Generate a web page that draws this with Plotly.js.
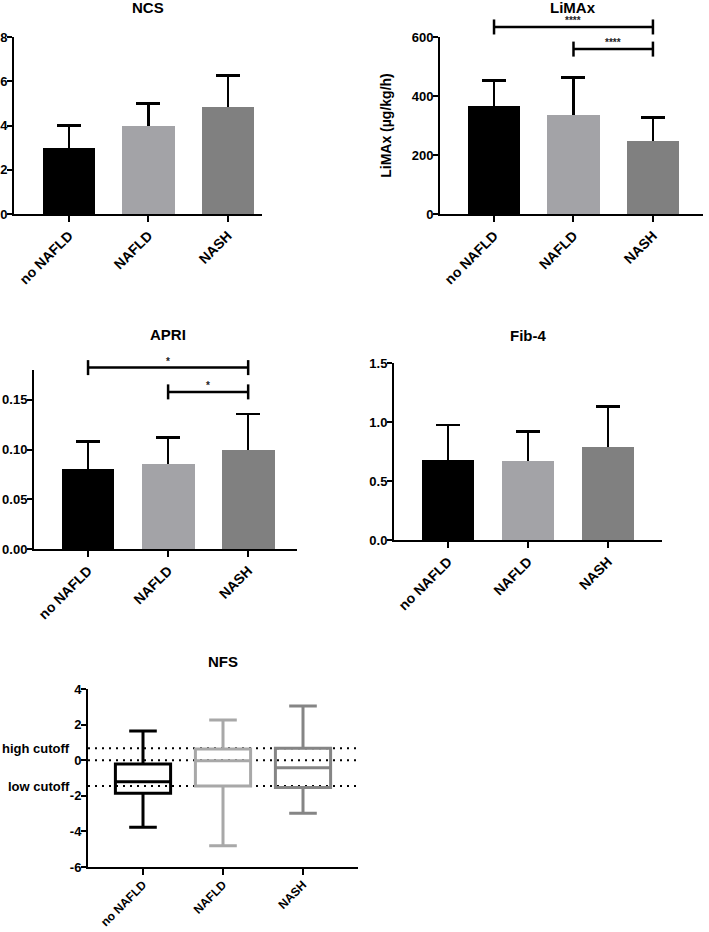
<!DOCTYPE html>
<html>
<head>
<meta charset="utf-8">
<script src="https://cdn.plot.ly/plotly-3.0.1.min.js"></script>
<style>html,body{margin:0;padding:0;background:#fff;}#chart{width:709px;height:932px;}</style>
</head>
<body>
<div id="chart"></div>
<script>
// ---------- data ----------
const categories = ['no NAFLD', 'NAFLD', 'NASH'];
const barColors = ['#000000', '#a3a3a7', '#808080'];
const boxColors = ['#000000', '#a8a8a8', '#858585'];

const ncsMean = [3.0, 4.0, 4.83];
const ncsSD = [1.0, 1.0, 1.42];

const limaxMean = [365, 337, 248];
const limaxSD = [87, 125, 79];

const apriMean = [0.080, 0.085, 0.100];
const apriSD = [0.028, 0.027, 0.036];

const fib4Mean = [0.675, 0.67, 0.79];
const fib4SD = [0.30, 0.25, 0.34];

// NFS box plot (min, Q1, median, Q3, max)
const nfsMin = [-3.77, -4.80, -2.98];
const nfsQ1 = [-1.86, -1.45, -1.54];
const nfsMedian = [-1.21, -0.03, -0.42];
const nfsQ3 = [-0.21, 0.63, 0.67];
const nfsMax = [1.64, 2.26, 3.04];
const nfsCutoffs = [0.676, 0, -1.455];
const nfsCutoffLabels = ['high cutoff', '', 'low cutoff'];
const nfsTickVals = [-6, -4, -2, 0, 2, 4];
const nfsTickText = ['-6', '-4', '-2', '0', '2', '4'];

// significance brackets
const limaxSigFrom = [0, 1];
const limaxSigTo = [2, 2];
const limaxSigY = [634, 559];
const limaxSigLabel = ['****', '****'];

const apriSigFrom = [0, 1];
const apriSigTo = [2, 2];
const apriSigY = [0.1824, 0.158];
const apriSigLabel = ['*', '*'];

// ---------- layout helpers ----------
const W = 709, H = 932;
const FONT = 'Liberation Sans, Arial, Helvetica, sans-serif';
const px2x = p => p / W;
const px2y = p => 1 - p / H;

function xAxis(x0, x1, yId, range, fs, standoff) {
  return {
    domain: [px2x(x0), px2x(x1)], anchor: yId, type: 'category',
    range: range, showline: true, linewidth: 2, linecolor: '#000',
    ticks: 'outside', ticklen: 6, tickwidth: 2, tickcolor: '#000',
    ticklabelstandoff: standoff || 0,
    tickangle: -45, showgrid: false, zeroline: false, fixedrange: true,
    tickfont: {family: FONT, size: fs || 14, color: '#000', weight: 'bold'}
  };
}
function yAxis(yTop, yBot, xId, range, extra) {
  return Object.assign({
    domain: [px2y(yBot), px2y(yTop)], anchor: xId,
    range: range, showline: true, linewidth: 2, linecolor: '#000',
    ticks: 'outside', ticklen: 5, tickwidth: 2, tickcolor: '#000',
    ticklabelstandoff: -3,
    showgrid: false, zeroline: false, fixedrange: true,
    tickfont: {family: FONT, size: 13, color: '#000', weight: 'bold'}
  }, extra || {});
}

// each bar panel: bars carrying the SD error bars, then the same bars on top
// hiding the lower half of the whiskers (upper-only error bars as in the original)
function barTraces(means, sds, xa, ya) {
  return [{
    type: 'bar', x: categories, y: means, xaxis: xa, yaxis: ya,
    width: 0.66, marker: {color: barColors, line: {width: 0}},
    error_y: {type: 'data', array: sds, color: '#000', thickness: 2.5, width: 12},
    showlegend: false, hoverinfo: 'skip'
  }, {
    type: 'bar', x: categories, y: means, xaxis: xa, yaxis: ya,
    width: 0.66, marker: {color: barColors, line: {width: 0}},
    showlegend: false, hoverinfo: 'skip'
  }];
}

const traces = [].concat(
  barTraces(ncsMean, ncsSD, 'x', 'y'),
  barTraces(limaxMean, limaxSD, 'x2', 'y2'),
  barTraces(apriMean, apriSD, 'x3', 'y3'),
  barTraces(fib4Mean, fib4SD, 'x4', 'y4')
);

categories.forEach((c, i) => {
  traces.push({
    type: 'box', x: [c], q1: [nfsQ1[i]], median: [nfsMedian[i]], q3: [nfsQ3[i]],
    lowerfence: [nfsMin[i]], upperfence: [nfsMax[i]], xaxis: 'x5', yaxis: 'y5',
    width: 0.69, whiskerwidth: 0.5, boxpoints: false,
    line: {color: boxColors[i], width: 3}, fillcolor: 'rgba(0,0,0,0)',
    showlegend: false, hoverinfo: 'skip'
  });
});

const shapes = [];
const annotations = [];

function addBrackets(from, to, ys, labels, xa, ya, ymax) {
  from.forEach((f, i) => {
    const yd = ys[i] / ymax;
    const common = {xref: xa, yref: ya + ' domain', line: {color: '#000', width: 2.5}, layer: 'above'};
    shapes.push(Object.assign({type: 'line', x0: f, x1: to[i], y0: yd, y1: yd}, common));
    [f, to[i]].forEach(xx => {
      shapes.push(Object.assign({type: 'line', x0: xx, x1: xx, ysizemode: 'pixel', yanchor: yd, y0: -7.5, y1: 7.5}, common));
    });
    annotations.push({xref: xa, yref: ya + ' domain', x: (f + to[i]) / 2, y: yd, yanchor: 'bottom',
      yshift: -1, showarrow: false, text: labels[i], font: {family: FONT, size: 10, color: '#222', weight: 'bold'}});
  });
}
addBrackets(limaxSigFrom, limaxSigTo, limaxSigY, limaxSigLabel, 'x2', 'y2', 600);
addBrackets(apriSigFrom, apriSigTo, apriSigY, apriSigLabel, 'x3', 'y3', 0.18);

// NFS cutoff dotted lines
nfsCutoffs.forEach((v, i) => {
  shapes.push({type: 'line', xref: 'x5 domain', yref: 'y5', x0: 0, x1: 1, y0: v, y1: v,
    line: {color: '#000', width: 2, dash: '2px,5px'}, layer: 'below'});
  if (nfsCutoffLabels[i]) {
    annotations.push({xref: 'x5 domain', yref: 'y5', x: -0.058, y: v, xanchor: 'right', yanchor: 'middle',
      showarrow: false, text: nfsCutoffLabels[i], font: {family: FONT, size: 13, color: '#000', weight: 'bold'}});
  }
});

// panel titles
const titles = [['NCS', 'x', 8], ['LiMAx', 'x2', 8], ['APRI', 'x3', 334], ['Fib-4', 'x4', 335], ['NFS', 'x5', 661]];
titles.forEach(t => {
  annotations.push({xref: t[1], yref: 'paper', x: 1, y: px2y(t[2]), xanchor: 'center', yanchor: 'middle',
    showarrow: false, text: t[0], font: {family: FONT, size: 15, color: '#000', weight: 'bold'}});
});

const layout = {
  width: W, height: H, margin: {l: 0, r: 0, t: 0, b: 0},
  paper_bgcolor: '#fff', plot_bgcolor: '#fff', showlegend: false,
  boxmode: 'overlay', barmode: 'overlay', bargap: 0,
  font: {family: FONT, color: '#000'},
  xaxis: xAxis(14, 262, 'y', [-0.69, 2.43]),
  yaxis: yAxis(37, 214, 'x', [0, 8], {dtick: 2, tick0: 0}),
  xaxis2: xAxis(440, 703, 'y2', [-0.68, 2.63]),
  yaxis2: yAxis(37, 214, 'x2', [0, 600], {dtick: 200, tick0: 0,
    title: {text: 'LiMAx (µg/kg/h)', standoff: 17, font: {family: FONT, size: 14, color: '#000', weight: 'bold'}}}),
  xaxis3: xAxis(34, 297, 'y3', [-0.675, 2.61]),
  yaxis3: yAxis(370, 549, 'x3', [0, 0.18], {dtick: 0.05, tick0: 0, tickformat: '.2f'}),
  xaxis4: xAxis(394, 662, 'y4', [-0.675, 2.675]),
  yaxis4: yAxis(363, 540, 'x4', [0, 1.5], {dtick: 0.5, tick0: 0, tickformat: '.1f'}),
  xaxis5: xAxis(88, 358, 'y5', [-0.6875, 2.6875], 12, -2),
  yaxis5: yAxis(689, 867, 'x5', [-6, 4], {tickmode: 'array', tickvals: nfsTickVals, ticktext: nfsTickText}),
  shapes: shapes,
  annotations: annotations
};

Plotly.newPlot('chart', traces, layout, {staticPlot: true, displayModeBar: false});
</script>
</body>
</html>
